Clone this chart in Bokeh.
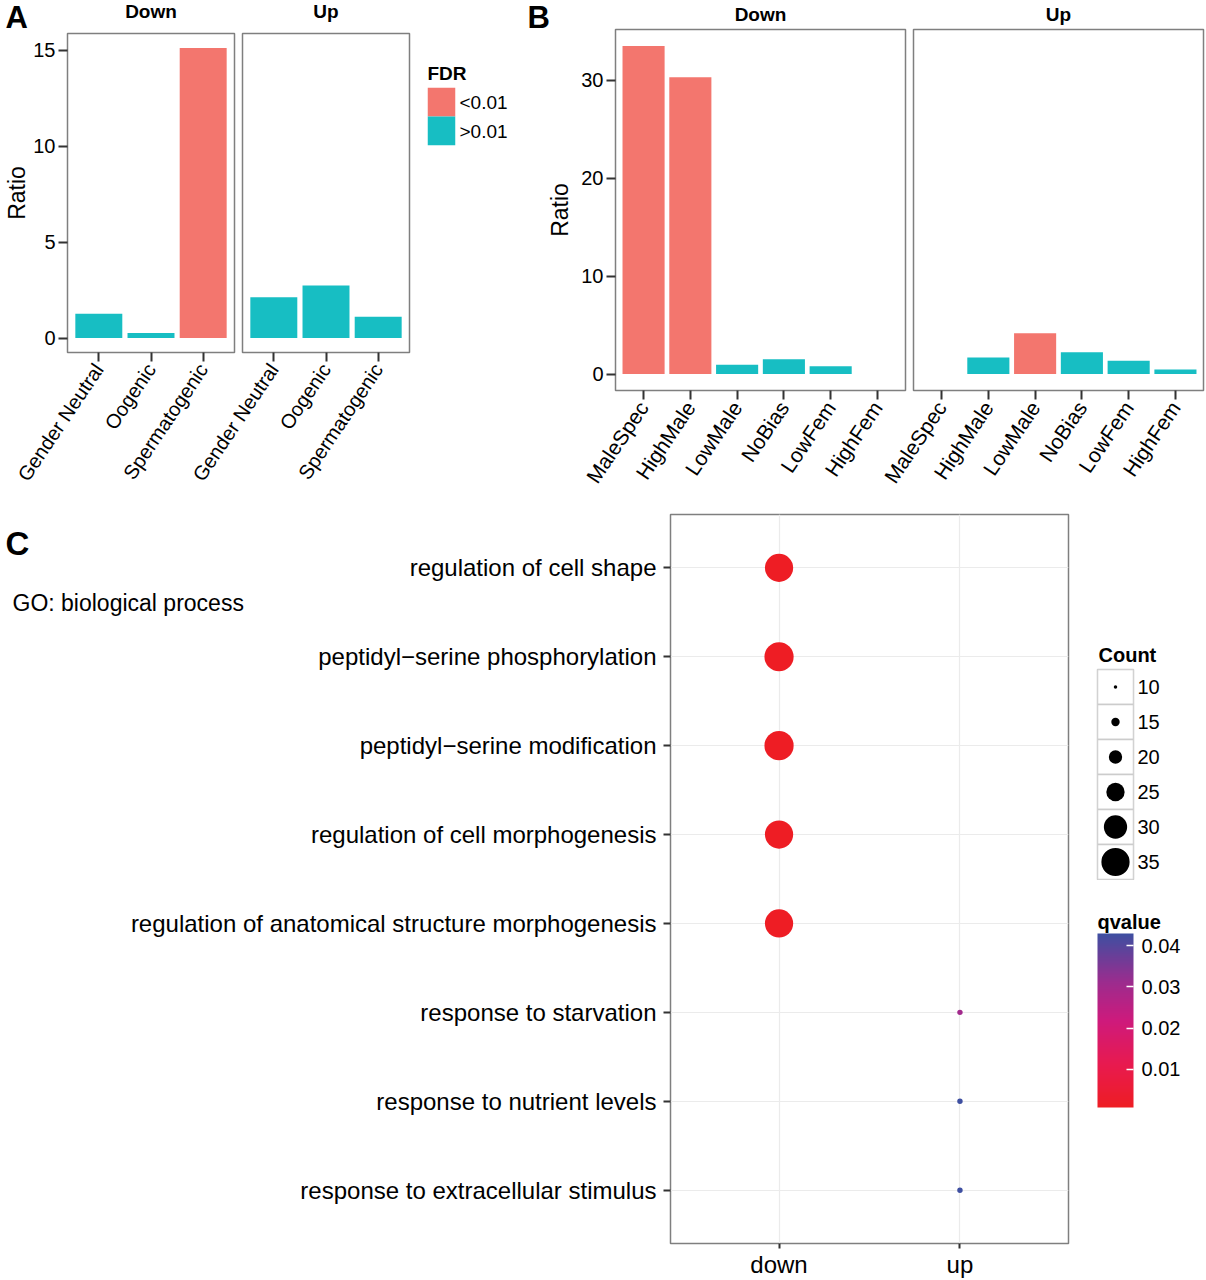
import math
import numpy as np
from bokeh.plotting import figure
from bokeh.models import (FactorRange, Range1d, Label, ColorBar, LinearColorMapper,
                          FixedTicker, ColumnDataSource)
from bokeh.layouts import row, column
from bokeh.embed import file_html
from bokeh.resources import INLINE

# ---------------- data ----------------
a_categories = ["Gender Neutral", "Oogenic", "Spermatogenic"]
a_down_ratio = [1.26, 0.26, 15.13]
a_down_fdr = [">0.01", ">0.01", "<0.01"]
a_up_ratio = [2.13, 2.74, 1.11]
a_up_fdr = [">0.01", ">0.01", ">0.01"]
a_yticks = [0, 5, 10, 15]

b_categories = ["MaleSpec", "HighMale", "LowMale", "NoBias", "LowFem", "HighFem"]
b_down_ratio = [33.5, 30.3, 0.95, 1.52, 0.81, 0.0]
b_down_fdr = ["<0.01", "<0.01", ">0.01", ">0.01", ">0.01", ">0.01"]
b_up_ratio = [0.0, 1.69, 4.17, 2.24, 1.35, 0.47]
b_up_fdr = [">0.01", ">0.01", "<0.01", ">0.01", ">0.01", ">0.01"]
b_yticks = [0, 10, 20, 30]

fdr_levels = ["<0.01", ">0.01"]

c_terms = ["regulation of cell shape",
           "peptidyl\u2212serine phosphorylation",
           "peptidyl\u2212serine modification",
           "regulation of cell morphogenesis",
           "regulation of anatomical structure morphogenesis",
           "response to starvation",
           "response to nutrient levels",
           "response to extracellular stimulus"]
c_groups = ["down", "up"]
c_group = ["down", "down", "down", "down", "down", "up", "up", "up"]
c_count = [35, 36, 36, 35, 35, 12, 12, 12]
c_qvalue = [0.0007, 0.0007, 0.0007, 0.0007, 0.0007, 0.030, 0.043, 0.043]
count_breaks = [10, 15, 20, 25, 30, 35]
q_ticks = [0.01, 0.02, 0.03, 0.04]

# ---------------- styles ----------------
FONT = "Liberation Sans"
FDR_COLORS = {"<0.01": "#F3766E", ">0.01": "#17BEC3"}
BORDER = "#7F7F7F"
TICK = "#333333"
ANG = math.radians(56)
MID = 0.36   # cap-centre offset (in em) used to place text by its baseline
PAD = 0.1    # extra discrete-axis expansion on each side (ggplot's 0.6 - 0.5)


def count_to_diameter(c):
    return (c - 6.5) * 0.99


def make_palette():
    anchors = [(0.0, (238, 29, 36)), (0.25, (232, 26, 80)), (0.5, (206, 26, 124)),
               (0.72, (156, 44, 142)), (1.0, (62, 79, 161))]
    pal = []
    for t in np.linspace(0, 1, 256):
        for (t0, c0), (t1, c1) in zip(anchors[:-1], anchors[1:]):
            if t0 <= t <= t1:
                f = (t - t0) / (t1 - t0)
                rgb = [int(round(a + (b - a) * f)) for a, b in zip(c0, c1)]
                pal.append("#%02x%02x%02x" % tuple(rgb))
                break
    return pal


def box(f, ml=0, mt=0):
    if ml or mt:
        return column(f, margin=(mt, 0, 0, ml))
    return column(f)


def base_fig(x_range, y_range, width, height, left, right, top, bottom, **kw):
    p = figure(x_range=x_range, y_range=y_range, width=width, height=height,
               min_border_left=left, min_border_right=right,
               min_border_top=top, min_border_bottom=bottom,
               output_backend="svg", toolbar_location=None, **kw)
    p.background_fill_color = "white"
    p.border_fill_alpha = 0
    return p


def text_fig(width, height, items):
    """A blank canvas used only to hold free text (panel letters, strip titles)."""
    p = figure(width=width, height=height, x_range=Range1d(0, width),
               y_range=Range1d(height, 0), min_border=0,
               output_backend="svg", toolbar_location=None)
    p.axis.visible = False
    p.grid.visible = False
    p.outline_line_color = None
    p.background_fill_alpha = 0
    p.border_fill_alpha = 0
    for (txt, x, baseline, size, bold, align, font) in items:
        p.add_layout(Label(x=x, y=baseline - MID * size, text=txt, text_font=font,
                           text_font_size=f"{size}px",
                           text_font_style="bold" if bold else "normal",
                           text_align=align, text_baseline="middle",
                           text_color="#000000"))
    return p


def bar_panel(cats, ratios, fdrs, ymax, yticks, width, height, left, right, top, bottom,
              show_y, label_size, ylab_standoff):
    src = ColumnDataSource(dict(cat=cats, ratio=ratios,
                                color=[FDR_COLORS[f] for f in fdrs]))
    p = base_fig(FactorRange(factors=cats, range_padding=PAD, range_padding_units="absolute"),
                 Range1d(-0.05 * ymax, 1.05 * ymax), width, height, left, right, top, bottom)
    p.vbar(x="cat", top="ratio", bottom=0, width=0.9, fill_color="color",
           line_color=None, source=src)
    p.xgrid.visible = False
    p.ygrid.visible = False
    p.outline_line_color = BORDER
    p.outline_line_width = 1.5
    for ax in (p.xaxis[0], p.yaxis[0]):
        ax.axis_line_color = None
        ax.major_tick_line_color = TICK
        ax.major_tick_line_width = 2
        ax.major_tick_out = 9
        ax.major_tick_in = 0
        ax.minor_tick_line_color = None
        ax.major_label_text_font = FONT
        ax.major_label_text_color = "#000000"
    p.xaxis.major_label_text_font_size = f"{label_size}px"
    p.xaxis.major_label_orientation = ANG
    p.xaxis.major_label_standoff = 4
    p.yaxis.ticker = FixedTicker(ticks=yticks)
    p.yaxis.major_label_text_font_size = "20px"
    p.yaxis.major_label_standoff = 3
    if show_y:
        p.yaxis.axis_label = "Ratio"
        p.yaxis.axis_label_text_font = FONT
        p.yaxis.axis_label_text_font_size = "23px"
        p.yaxis.axis_label_text_font_style = "normal"
        p.yaxis.axis_label_text_color = "#000000"
        p.yaxis.axis_label_standoff = ylab_standoff
    else:
        p.yaxis.visible = False
    return p


def key_axis_style(ax, size):
    ax.axis_line_color = None
    ax.major_tick_line_color = None
    ax.minor_tick_line_color = None
    ax.major_tick_out = 0
    ax.major_tick_in = 0
    ax.major_label_text_font = FONT
    ax.major_label_text_font_size = f"{size}px"
    ax.major_label_text_color = "#000000"
    ax.major_label_standoff = 4


# ---------------- top strip (panel letters and facet strips) ----------------
STRIP_H = 40      # strip canvas height
STRIP_OVER = 13   # the panel row overlaps the strip's lower part
strip = text_fig(1206, STRIP_H, [
    ("A", 5, 28, 31, True, "left", FONT),
    ("Down", 150.5, 18, 19, True, "center", FONT),
    ("Up", 325.5, 18, 19, True, "center", FONT),
    ("B", 527, 28, 31, True, "left", FONT),
    ("Down", 760, 21, 19, True, "center", FONT),
    ("Up", 1058, 21, 19, True, "center", FONT),
])

ROW_TOP = STRIP_H - STRIP_OVER   # 27
ROW_H = 500 - ROW_TOP

# ---------------- Panel A ----------------
a_max = max(a_down_ratio + a_up_ratio)
fa_down = bar_panel(a_categories, a_down_ratio, a_down_fdr, a_max, a_yticks,
                    238, ROW_H, 67, 4, 6, ROW_H - 6 - 319, True, 20, 0)
fa_up = bar_panel(a_categories, a_up_ratio, a_up_fdr, a_max, a_yticks,
                  235, ROW_H, 62, 6, 6, ROW_H - 6 - 319, False, 20, 0)

# FDR legend: title canvas + key column with labels on a right-hand axis
fdr_title = text_fig(112, 60, [("FDR", 12, 53, 19, True, "left", FONT)])
f_fdr = base_fig(Range1d(0, 1), FactorRange(factors=list(reversed(fdr_levels))),
                 112, ROW_H - 60, 12, 72, 0, ROW_H - 60 - 58, y_axis_location="right")
f_fdr.rect(x=0.5, y=fdr_levels, width=1, height=1,
           fill_color=[FDR_COLORS[l] for l in fdr_levels], line_color=None)
f_fdr.xaxis.visible = False
f_fdr.xgrid.visible = False
f_fdr.ygrid.visible = False
f_fdr.outline_line_color = None
key_axis_style(f_fdr.yaxis[0], 19)

# ---------------- Panel B ----------------
b_max = max(b_down_ratio + b_up_ratio)
fb_down = bar_panel(b_categories, b_down_ratio, b_down_fdr, b_max, b_yticks,
                    382, ROW_H, 88, 4, 2, ROW_H - 2 - 361, True, 21, 5)
fb_up = bar_panel(b_categories, b_up_ratio, b_up_fdr, b_max, b_yticks,
                  336, ROW_H, 43, 3, 2, ROW_H - 2 - 361, False, 21, 0)

row2 = row(box(fa_down), box(fa_up, -58), column(box(fdr_title), box(f_fdr)),
           box(fb_down), box(fb_up, -39), margin=(-STRIP_OVER, 0, 0, 0))
top = column(box(strip), row2)

# ---------------- Panel C ----------------
BOT_H = 780
palette = make_palette()
mapper = LinearColorMapper(palette=palette, low=min(c_qvalue), high=max(c_qvalue))

src_c = ColumnDataSource(dict(term=c_terms, group=c_group, count=c_count, q=c_qvalue,
                              size=[count_to_diameter(c) for c in c_count]))
fc = base_fig(FactorRange(factors=c_groups, range_padding=PAD, range_padding_units="absolute"),
              FactorRange(factors=list(reversed(c_terms)), range_padding=PAD,
                          range_padding_units="absolute"),
              1092, BOT_H, 670, 24, 14, 36)
fc.scatter(x="group", y="term", size="size", source=src_c, line_color=None,
           fill_color={"field": "q", "transform": mapper})
fc.outline_line_color = BORDER
fc.outline_line_width = 1.5
fc.xgrid.grid_line_color = "#EBEBEB"
fc.ygrid.grid_line_color = "#EBEBEB"
fc.xgrid.grid_line_width = 1.2
fc.ygrid.grid_line_width = 1.2
for ax in (fc.xaxis[0], fc.yaxis[0]):
    ax.axis_line_color = None
    ax.major_tick_line_color = TICK
    ax.major_tick_line_width = 2
    ax.major_tick_in = 0
    ax.minor_tick_line_color = None
    ax.major_label_text_font = FONT
    ax.major_label_text_font_size = "24px"
    ax.major_label_text_color = "#000000"
fc.yaxis.major_tick_out = 7
fc.yaxis.major_label_standoff = 7
fc.xaxis.major_tick_out = 5
fc.xaxis.major_label_standoff = 2

c_text = text_fig(300, BOT_H, [
    ("C", 5, 55, 33, True, "left", FONT),
    ("GO: biological process", 12, 111, 23, False, "left", FONT),
])

# Count legend
count_labels = [str(c) for c in count_breaks]
count_title = text_fig(114, 168, [("Count", 6, 162, 20, True, "left", FONT)])
f_count = base_fig(Range1d(0, 1), FactorRange(factors=list(reversed(count_labels))),
                   114, 212, 5, 73, 1, 1, y_axis_location="right")
f_count.rect(x=0.5, y=count_labels, width=1, height=1, fill_color="white",
             line_color="#CCCCCC", line_width=1.5)
f_count.scatter(x=0.5, y=count_labels, size=[count_to_diameter(c) for c in count_breaks],
                fill_color="black", line_color=None)
f_count.xaxis.visible = False
f_count.xgrid.visible = False
f_count.ygrid.visible = False
f_count.outline_line_color = "#CCCCCC"
f_count.outline_line_width = 1.5
key_axis_style(f_count.yaxis[0], 20)

# qvalue colour bar
Q_H = BOT_H - 168 - 212
f_q = base_fig(Range1d(0, 1), Range1d(0, 1), 114, Q_H, 0, 0, 0, 0)
f_q.axis.visible = False
f_q.grid.visible = False
f_q.outline_line_color = None
cbar = ColorBar(color_mapper=mapper, orientation="vertical", width=36, height=174,
                location=(5, Q_H - (1107 - 880)), title=None,
                padding=0, margin=0,
                ticker=FixedTicker(ticks=q_ticks),
                major_label_text_font=FONT, major_label_text_font_size="20px",
                major_label_text_color="#000000", label_standoff=8,
                major_tick_line_color="white", major_tick_line_width=1.5,
                major_tick_in=7, major_tick_out=0,
                minor_tick_line_color=None, bar_line_color=None,
                border_line_color=None, background_fill_alpha=0)
f_q.add_layout(cbar, "center")
f_q.add_layout(Label(x=5, y=Q_H - (929 - 880) + MID * 20, x_units="screen", y_units="screen",
                     text="qvalue", text_font=FONT, text_font_size="20px",
                     text_font_style="bold", text_baseline="middle",
                     text_color="#000000"))

right_col = column(box(count_title), box(f_count), box(f_q))
bottom = row(box(c_text), box(fc, -300), right_col)

root = column(top, bottom)
open("out.html", "w").write(file_html(root, INLINE))
